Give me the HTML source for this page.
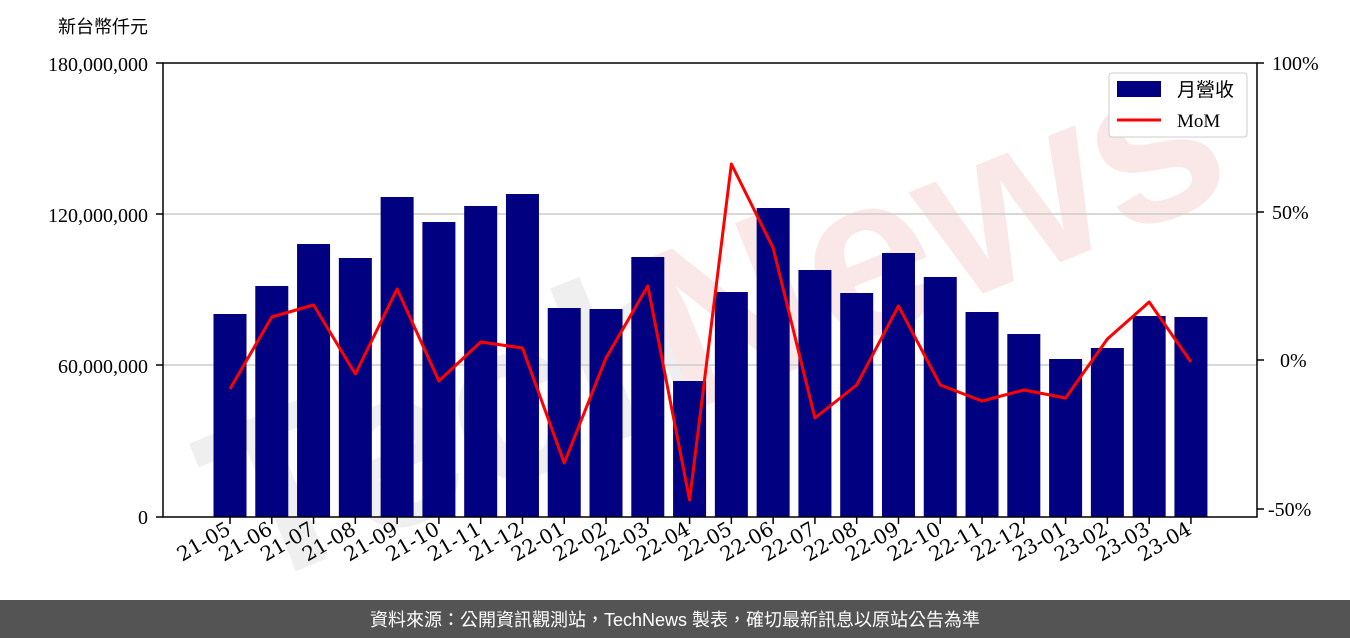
<!DOCTYPE html>
<html><head><meta charset="utf-8"><style>
html,body{margin:0;padding:0;background:#fff;width:1350px;height:638px;overflow:hidden}
svg{display:block}
</style></head><body>
<svg width="1350" height="638" xmlns="http://www.w3.org/2000/svg" font-family="Liberation Serif, Noto Serif CJK SC, serif">
<rect width="1350" height="638" fill="#fff"/>
<g opacity="0.09" font-family="Liberation Sans, sans-serif" font-weight="bold" font-size="230" transform="rotate(-22 700 300)">
<text x="170" y="400" fill="#555">Tech</text><text x="640" y="400" fill="#c00">News</text>
</g>
<g stroke="#cccccc" stroke-width="1.5">
<line x1="163" y1="214" x2="1257" y2="214"/><line x1="163" y1="365" x2="1257" y2="365"/>
</g>
<g fill="#000080" id="bars"></g>
<polyline id="mom" fill="none" stroke="#ff0000" stroke-width="3" stroke-linejoin="round"/>
<rect x="163" y="63" width="1094" height="454" fill="none" stroke="#000" stroke-width="1.5"/>
<g font-size="20" text-anchor="end">
<text x="148" y="71">180,000,000</text>
<text x="148" y="222">120,000,000</text>
<text x="148" y="373">60,000,000</text>
<text x="148" y="524">0</text>
</g>
<g stroke="#000" stroke-width="1.5">
<line x1="156" y1="63" x2="163" y2="63"/><line x1="156" y1="214" x2="163" y2="214"/><line x1="156" y1="365" x2="163" y2="365"/><line x1="156" y1="517" x2="163" y2="517"/>
<line x1="1257" y1="63" x2="1264" y2="63"/><line x1="1257" y1="212" x2="1264" y2="212"/><line x1="1257" y1="360" x2="1264" y2="360"/><line x1="1257" y1="509" x2="1264" y2="509"/>
</g>
<g font-size="20">
<text x="1272" y="70">100%</text>
<text x="1272" y="219">50%</text>
<text x="1280" y="367">0%</text>
<text x="1268" y="516">-50%</text>
</g>
<text x="58" y="33" font-size="18" font-family="Liberation Sans, Noto Sans CJK TC, sans-serif">新台幣仟元</text>
<g id="xt" font-size="20" font-family="DejaVu Serif, serif"></g>
<rect x="1109" y="73" width="138" height="64" fill="#fff" stroke="#ccc" rx="3"/>
<rect x="1117" y="81" width="44" height="16" fill="#000080"/>
<text x="1177" y="96" font-size="19" font-family="Liberation Sans, Noto Sans CJK TC, sans-serif">月營收</text>
<line x1="1117" y1="120" x2="1161" y2="120" stroke="#f00" stroke-width="3"/>
<text x="1177" y="127" font-size="19">MoM</text>
<rect x="0" y="600" width="1350" height="38" fill="#545454"/>
<text x="675" y="626" font-size="18" fill="#fff" text-anchor="middle" font-family="Liberation Sans, Noto Sans CJK TC, sans-serif">資料來源：公開資訊觀測站，TechNews 製表，確切最新訊息以原站公告為準</text>
</svg>
<script>
var labels=["21-05","21-06","21-07","21-08","21-09","21-10","21-11","21-12","22-01","22-02","22-03","22-04","22-05","22-06","22-07","22-08","22-09","22-10","22-11","22-12","23-01","23-02","23-03","23-04"];
var tops=[314,286,244,258,197,222,206,194,308,309,257,381,292,208,270,293,253,277,312,334,359,348,316,317];
var mom=[389,317,305,374,289,381,342,348,463,358,286,500,164,248,418,385,306,385,401,390,398,339,302,362];
var ns="http://www.w3.org/2000/svg",b=document.getElementById("bars"),xt=document.getElementById("xt"),pts=[];
for(var i=0;i<24;i++){var cx=230+i*41.78;
var r=document.createElementNS(ns,"rect");r.setAttribute("x",cx-16.5);r.setAttribute("y",tops[i]);r.setAttribute("width",33);r.setAttribute("height",517-tops[i]);b.appendChild(r);
pts.push(cx+","+mom[i]);
var l=document.createElementNS(ns,"line");l.setAttribute("x1",cx);l.setAttribute("x2",cx);l.setAttribute("y1",517);l.setAttribute("y2",524);l.setAttribute("stroke","#000");l.setAttribute("stroke-width","1.5");xt.appendChild(l);
var tx=cx+2,ty=533;
var t=document.createElementNS(ns,"text");t.setAttribute("x",tx);t.setAttribute("y",ty);t.setAttribute("text-anchor","end");t.setAttribute("transform","rotate(-30 "+tx+" "+ty+")");t.textContent=labels[i];xt.appendChild(t);}
document.getElementById("mom").setAttribute("points",pts.join(" "));
</script>
</body></html>
